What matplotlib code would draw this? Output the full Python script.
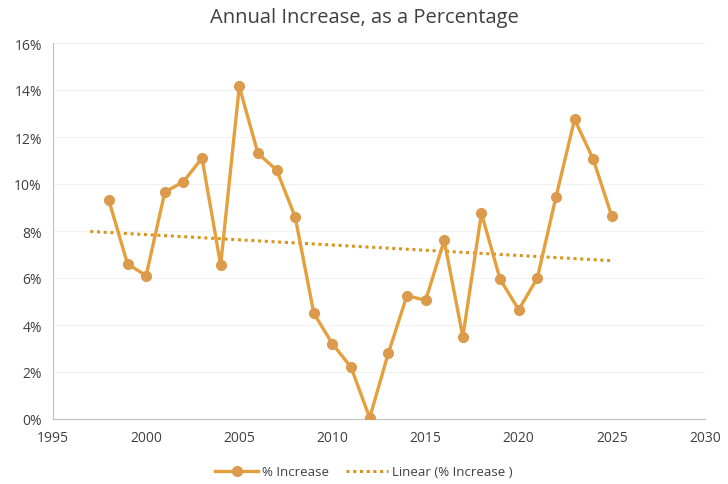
import numpy as np
import matplotlib
matplotlib.use('Agg')
import matplotlib.pyplot as plt
from matplotlib.ticker import PercentFormatter

# data
years = list(range(1998, 2026))
pct = [9.3, 6.6, 6.1, 9.65, 10.1, 11.1, 6.55, 14.15, 11.3, 10.6, 8.6, 4.5,
       3.2, 2.2, 0.05, 2.8, 5.25, 5.05, 7.6, 3.5, 8.75, 5.95, 4.65, 6.0,
       9.45, 12.75, 11.05, 8.62]

plt.rcParams['font.family'] = ['Open Sans', 'DejaVu Sans']

fig = plt.figure(figsize=(7.28, 4.85), dpi=100)
ax = fig.add_axes([53 / 728, 65 / 485, 652 / 728, 376 / 485])

line_col = '#E3A03D'
ax.plot(years, pct, color=line_col, lw=2.4, marker='o', ms=7,
        mfc='#DC9A4C', mec='#DC9A4C', label='% Increase', zorder=3)

# linear trend, extended one year back like the Excel trendline
coef = np.polyfit(years, pct, 1)
tx = np.array([1997, 2025])
ax.plot(tx, np.polyval(coef, tx), color='#D9961E', lw=2.2, ls=(0, (1, 1.2)),
        label='Linear (% Increase )', zorder=2)

ax.set_xlim(1995, 2030)
ax.set_ylim(0, 16)
ax.set_xticks(range(1995, 2031, 5))
ax.set_yticks(range(0, 17, 2))
ax.yaxis.set_major_formatter(PercentFormatter(decimals=0))
ax.grid(axis='y', color='#F2F2F2', lw=0.8)
ax.set_axisbelow(True)
for s in ['top', 'right']:
    ax.spines[s].set_visible(False)
for s in ['left', 'bottom']:
    ax.spines[s].set_color('#BFBFBF')
    ax.spines[s].set_linewidth(0.8)
ax.tick_params(length=0, labelsize=10, colors='#404040', pad=8)

fig.text(0.5, 0.962, 'Annual Increase, as a Percentage', ha='center', va='center',
         fontsize=14.5, color='#404040')
fig.legend(loc='center', bbox_to_anchor=(0.5, 12 / 485), ncol=2, frameon=False,
           fontsize=9.5, handlelength=3.2, handletextpad=0.3, columnspacing=1.3,
           labelcolor='#404040')

fig.savefig('out.png', dpi=100)
